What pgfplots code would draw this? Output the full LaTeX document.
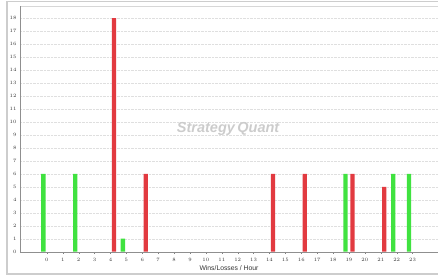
\documentclass[border=0pt]{standalone}
\usepackage{pgfplots}
\pgfplotsset{compat=1.18}
\usepackage{fontspec}
\setmainfont{Liberation Sans}
\definecolor{winG}{RGB}{64,226,64}
\definecolor{lossR}{RGB}{226,58,64}
\definecolor{frameG}{RGB}{205,205,205}
\begin{document}
\begin{tikzpicture}[x=1pt,y=1pt]
\useasboundingbox (0,0) rectangle (438,276);
\begin{scope}
\clip (0,0) rectangle (438,276);
\draw[frameG, line width=1.2pt] (7,2) rectangle (460,274.5);
\draw[frameG!80, line width=0.6pt] (20,270) -- (460,270);
\end{scope}
\begin{axis}[
  at={(20pt,24.3pt)}, anchor=south west,
  scale only axis, width=418pt, height=245.7pt,
  xmin=-1.69, xmax=24.6, ymin=0, ymax=18.93,
  axis x line*=bottom, axis y line*=left,
  axis line style={draw=frameG!70!black, line width=0.4pt},
  x axis line style={-}, y axis line style={-},
  xtick={0,...,23}, ytick={0,...,18},
  tick style={draw=gray, line width=0.3pt},
  major tick length=2pt,
  ytick style={draw=none},
  tick label style={font=\fontsize{4}{4}\selectfont, text=black!80},
  xticklabel style={yshift=-1pt},
  ymajorgrids,
  grid style={densely dotted, draw=gray!25, line width=0.4pt},
  ybar, bar width=4.3pt,
  xlabel={Wins/Losses / Hour},
  xlabel style={at={(axis description cs:0.5,0)}, anchor=base, yshift=-18.5pt, font=\fontsize{6.8}{7}\selectfont, text=black!80},
  clip=false,
]
\addplot[fill=winG, draw=none, bar shift=-3.5pt] coordinates {(0,6) (2,6) (5,1) (19,6) (22,6) (23,6)};
\addplot[fill=lossR, draw=none, bar shift=3.5pt] coordinates {(4,18) (6,6) (14,6) (16,6) (19,6) (21,5)};
\node[font=\bfseries\itshape\fontsize{14.5}{15}\selectfont, text=gray!40, anchor=center] at (axis cs:11.4,9.45) {Strategy\,Quant};
\end{axis}
\end{tikzpicture}
\end{document}
